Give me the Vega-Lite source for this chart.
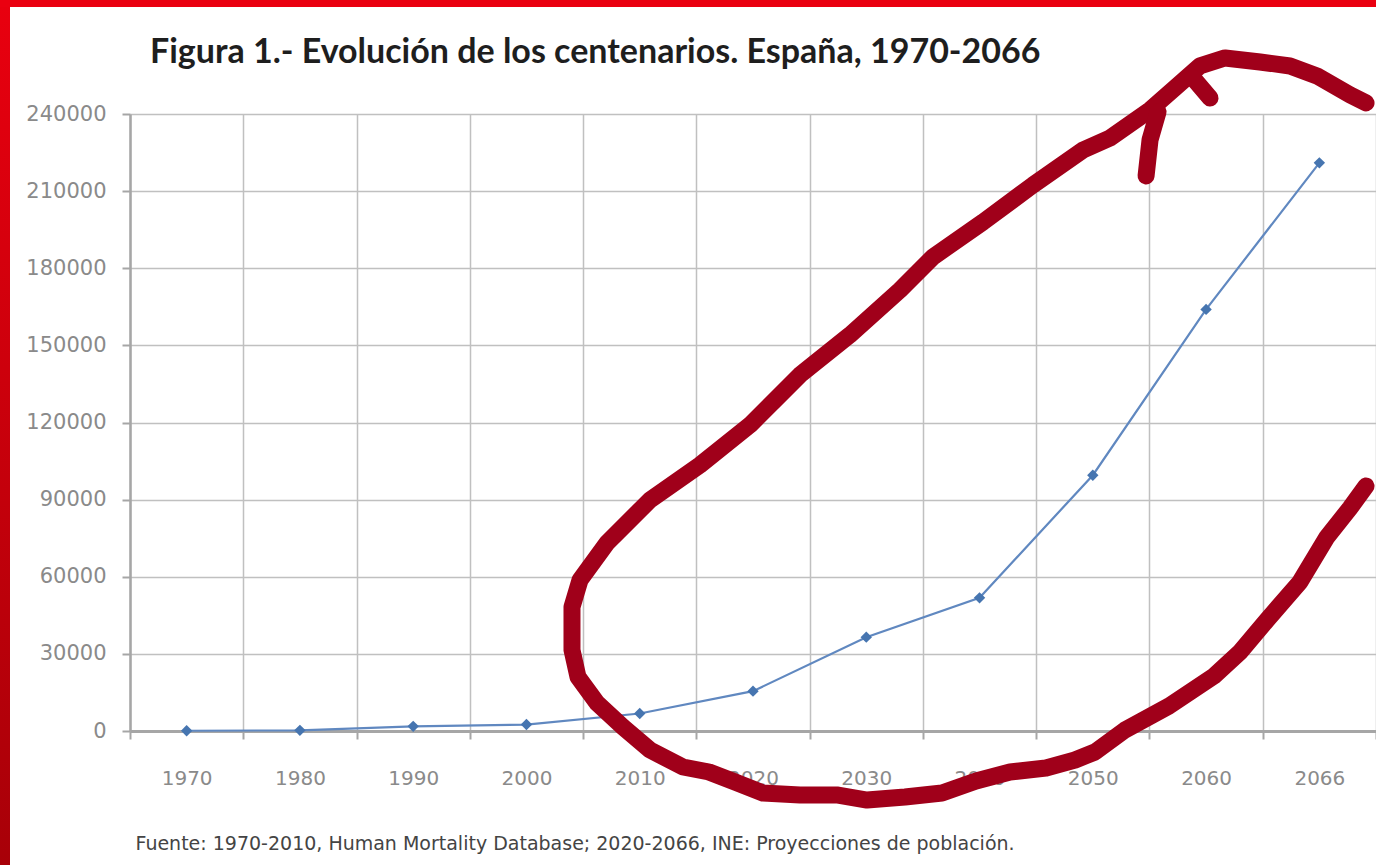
{
  "$schema": "https://vega.github.io/schema/vega-lite/v6.json",
  "background": "white",
  "padding": 0,
  "spacing": 0,
  "config": {"view": {"stroke": null}},
  "datasets": {
    "empty": [],
    "series": [
      {"year": "1970", "value": 100},
      {"year": "1980", "value": 250},
      {"year": "1990", "value": 1800},
      {"year": "2000", "value": 2500},
      {"year": "2010", "value": 6800},
      {"year": "2020", "value": 15500},
      {"year": "2030", "value": 36500},
      {"year": "2040", "value": 51800},
      {"year": "2050", "value": 99500},
      {"year": "2060", "value": 164000},
      {"year": "2066", "value": 221000}
    ],
    "ellipse": [
      {"seg": "a", "i": 1, "year": "2066", "frac": 0.912, "ey": 244292},
      {"seg": "a", "i": 2, "year": "2066", "frac": 0.771, "ey": 247404},
      {"seg": "a", "i": 3, "year": "2066", "frac": 0.479, "ey": 254795},
      {"seg": "a", "i": 4, "year": "2066", "frac": 0.241, "ey": 258685},
      {"seg": "a", "i": 5, "year": "2060", "frac": 0.976, "ey": 260241},
      {"seg": "a", "i": 6, "year": "2060", "frac": 0.667, "ey": 261797},
      {"seg": "a", "i": 7, "year": "2060", "frac": 0.446, "ey": 258685},
      {"seg": "a", "i": 8, "year": "2060", "frac": 0.226, "ey": 250127},
      {"seg": "a", "i": 9, "year": "2060", "frac": 0.005, "ey": 241569},
      {"seg": "a", "i": 10, "year": "2050", "frac": 0.652, "ey": 230677},
      {"seg": "a", "i": 11, "year": "2050", "frac": 0.414, "ey": 226009},
      {"seg": "a", "i": 12, "year": "2040", "frac": 0.972, "ey": 212394},
      {"seg": "a", "i": 13, "year": "2040", "frac": 0.531, "ey": 198001},
      {"seg": "a", "i": 14, "year": "2040", "frac": 0.089, "ey": 184386},
      {"seg": "a", "i": 15, "year": "2030", "frac": 0.798, "ey": 171549},
      {"seg": "a", "i": 16, "year": "2030", "frac": 0.356, "ey": 154044},
      {"seg": "a", "i": 17, "year": "2020", "frac": 0.915, "ey": 138484},
      {"seg": "a", "i": 18, "year": "2020", "frac": 0.474, "ey": 119034},
      {"seg": "a", "i": 19, "year": "2020", "frac": 0.032, "ey": 103474},
      {"seg": "a", "i": 20, "year": "2010", "frac": 0.591, "ey": 89859},
      {"seg": "a", "i": 21, "year": "2010", "frac": 0.211, "ey": 73132},
      {"seg": "a", "i": 22, "year": "2000", "frac": 0.973, "ey": 58739},
      {"seg": "a", "i": 23, "year": "2000", "frac": 0.902, "ey": 48236},
      {"seg": "a", "i": 24, "year": "2000", "frac": 0.902, "ey": 31509},
      {"seg": "a", "i": 25, "year": "2000", "frac": 0.955, "ey": 21006},
      {"seg": "a", "i": 26, "year": "2010", "frac": 0.123, "ey": 10892},
      {"seg": "a", "i": 27, "year": "2010", "frac": 0.352, "ey": 1556},
      {"seg": "a", "i": 28, "year": "2010", "frac": 0.591, "ey": -7391},
      {"seg": "a", "i": 29, "year": "2010", "frac": 0.882, "ey": -14004},
      {"seg": "a", "i": 30, "year": "2020", "frac": 0.112, "ey": -15949},
      {"seg": "a", "i": 31, "year": "2020", "frac": 0.341, "ey": -19839},
      {"seg": "a", "i": 32, "year": "2020", "frac": 0.588, "ey": -24118},
      {"seg": "a", "i": 33, "year": "2020", "frac": 0.915, "ey": -24896},
      {"seg": "a", "i": 34, "year": "2030", "frac": 0.251, "ey": -24896},
      {"seg": "a", "i": 35, "year": "2030", "frac": 0.507, "ey": -26841},
      {"seg": "a", "i": 36, "year": "2030", "frac": 0.842, "ey": -25674},
      {"seg": "a", "i": 37, "year": "2040", "frac": 0.169, "ey": -24118},
      {"seg": "a", "i": 38, "year": "2040", "frac": 0.469, "ey": -19450},
      {"seg": "a", "i": 39, "year": "2040", "frac": 0.769, "ey": -15949},
      {"seg": "a", "i": 40, "year": "2050", "frac": 0.087, "ey": -14393},
      {"seg": "a", "i": 41, "year": "2050", "frac": 0.343, "ey": -11281},
      {"seg": "a", "i": 42, "year": "2050", "frac": 0.519, "ey": -8169},
      {"seg": "a", "i": 43, "year": "2050", "frac": 0.784, "ey": 389},
      {"seg": "a", "i": 44, "year": "2060", "frac": 0.173, "ey": 9725},
      {"seg": "a", "i": 45, "year": "2060", "frac": 0.57, "ey": 21395},
      {"seg": "a", "i": 46, "year": "2060", "frac": 0.8, "ey": 30731},
      {"seg": "a", "i": 47, "year": "2066", "frac": 0.038, "ey": 43179},
      {"seg": "a", "i": 48, "year": "2066", "frac": 0.329, "ey": 57961},
      {"seg": "a", "i": 49, "year": "2066", "frac": 0.568, "ey": 75466},
      {"seg": "a", "i": 50, "year": "2066", "frac": 0.771, "ey": 86747},
      {"seg": "a", "i": 51, "year": "2066", "frac": 0.912, "ey": 95305},
      {"seg": "b", "i": 1, "year": "2050", "frac": 0.97, "ey": 215895},
      {"seg": "b", "i": 2, "year": "2060", "frac": 0.005, "ey": 229899},
      {"seg": "b", "i": 3, "year": "2060", "frac": 0.076, "ey": 240791},
      {"seg": "c", "i": 1, "year": "2060", "frac": 0.385, "ey": 254017},
      {"seg": "c", "i": 2, "year": "2060", "frac": 0.535, "ey": 246237}
    ]
  },
  "vconcat": [
    {
      "width": 1376,
      "height": 7,
      "view": {"fill": "#ea0010", "stroke": null},
      "data": {"name": "empty"},
      "mark": {"type": "point"},
      "encoding": {}
    },
    {
      "spacing": 0,
      "hconcat": [
        {
          "width": 10,
          "height": 858,
          "view": {
            "fill": {"gradient": "linear", "x1": 0, "y1": 0, "x2": 0, "y2": 1,
              "stops": [{"offset": 0, "color": "#e8000f"}, {"offset": 1, "color": "#a80008"}]},
            "stroke": null
          },
          "data": {"name": "empty"},
          "mark": {"type": "point"},
          "encoding": {}
        },
        {
          "spacing": 28,
          "vconcat": [
            {
              "width": 1,
              "height": 1,
              "data": {"name": "empty"},
              "mark": {"type": "point"},
              "encoding": {}
            },
            {
              "width": 1246,
              "height": 617,
              "title": {
                "text": "Figura 1.- Evolución de los centenarios. España, 1970-2066",
                "anchor": "start",
                "frame": "group",
                "dx": 20,
                "font": "Lato",
                "fontSize": 34,
                "fontWeight": "bold",
                "color": "#1e1e1e",
                "offset": -21
              },
              "layer": [
                {
                  "data": {"name": "series"},
                  "mark": {"type": "line", "color": "#6088c0", "strokeWidth": 2.2},
                  "encoding": {
                    "x": {
                      "field": "year", "type": "ordinal", "sort": null,
                      "scale": {"type": "band", "paddingInner": 0, "paddingOuter": 0,
                        "domain": ["1970", "1980", "1990", "2000", "2010", "2020", "2030", "2040", "2050", "2060", "2066"]},
                      "axis": {
                        "title": "Fuente: 1970-2010, Human Mortality Database; 2020-2066, INE: Proyecciones de población.",
                        "labelAngle": 0,
                        "tickBand": "extent",
                        "grid": true,
                        "gridColor": "#c0c0c0",
                        "gridWidth": 1.5,
                        "labelFont": "DejaVu Sans",
                        "labelFontSize": 20,
                        "labelColor": "#8a8a8a",
                        "labelPadding": 29,
                        "tickSize": 8,
                        "tickColor": "#a6a6a6",
                        "tickWidth": 2,
                        "domainColor": "#a6a6a6",
                        "domainWidth": 3,
                        "titleFont": "DejaVu Sans",
                        "titleFontSize": 19,
                        "titleFontWeight": "normal",
                        "titleColor": "#444444",
                        "titleAnchor": "start",
                        "titleAlign": "left",
                        "titleX": 5,
                        "titleY": 112,
                        "titleBaseline": "middle"
                      }
                    },
                    "y": {
                      "field": "value", "type": "quantitative",
                      "scale": {"domain": [0, 240000], "nice": false},
                      "axis": {
                        "title": null,
                        "values": [0, 30000, 60000, 90000, 120000, 150000, 180000, 210000, 240000],
                        "format": "d",
                        "labelFont": "DejaVu Sans",
                        "labelFontSize": 21,
                        "labelColor": "#8a8a8a",
                        "labelPadding": 16,
                        "tickSize": 8,
                        "tickColor": "#a6a6a6",
                        "tickWidth": 2,
                        "domainColor": "#a6a6a6",
                        "domainWidth": 2.5,
                        "gridColor": "#c0c0c0",
                        "gridWidth": 1.5,
                        "minExtent": 120,
                        "maxExtent": 120
                      }
                    }
                  }
                },
                {
                  "data": {"name": "series"},
                  "mark": {"type": "point", "shape": "diamond", "filled": true, "size": 130, "color": "#4675b0", "opacity": 1},
                  "encoding": {
                    "x": {"field": "year", "type": "ordinal", "sort": null},
                    "y": {"field": "value", "type": "quantitative"}
                  }
                },
                {
                  "data": {"name": "ellipse"},
                  "mark": {"type": "line", "color": "#a0001a", "strokeWidth": 17, "strokeCap": "round", "strokeJoin": "round"},
                  "encoding": {
                    "x": {"field": "year", "type": "ordinal", "sort": null},
                    "xOffset": {"field": "frac", "type": "quantitative", "scale": {"domain": [0, 1], "nice": false, "zero": false}},
                    "y": {"field": "ey", "type": "quantitative"},
                    "detail": {"field": "seg"},
                    "order": {"field": "i"}
                  }
                }
              ]
            }
          ]
        }
      ]
    }
  ]
}
